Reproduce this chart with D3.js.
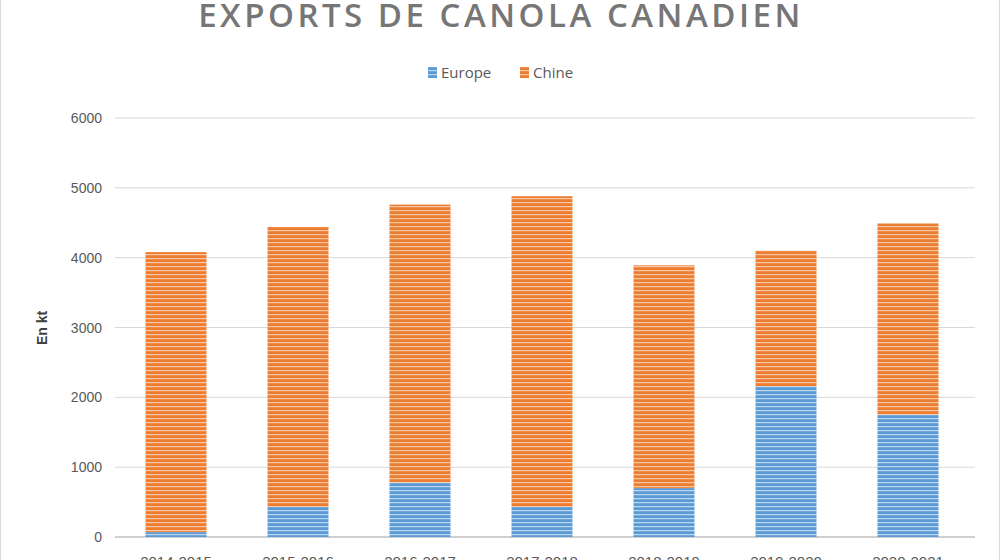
<!DOCTYPE html><html><head><meta charset="utf-8"><script src="https://cdn.jsdelivr.net/npm/d3@7"></script>
<style>body{margin:0;background:#fff}svg{display:block}</style></head><body><svg id="c" width="1000" height="560"></svg>
<script>
const categories=["2014-2015","2015-2016","2016-2017","2017-2018","2018-2019","2019-2020","2020-2021"];
const europe=[70,430,780,430,700,2160,1750];
const chine=[4010,4010,3980,4450,3190,1940,2740];
const yTicks=[0,1000,2000,3000,4000,5000,6000];
const svg=d3.select("#c");
svg.append("rect").attr("x",0.5).attr("y",-1).attr("width",999).attr("height",562).attr("fill","#fff").attr("stroke","#d9d9d9");
const defs=svg.append("defs");
function pat(id,c,l){const p=defs.append("pattern").attr("id",id).attr("patternUnits","userSpaceOnUse").attr("width",6).attr("height",4);
p.append("rect").attr("width",6).attr("height",4).attr("fill",c);p.append("rect").attr("y",2).attr("width",6).attr("height",1.2).attr("fill",l);}
pat("pE","#5b9bd5","#bcd6ef");pat("pC","#ed7d31","#f7c6a4");
const x=d3.scaleBand().domain(categories).range([115,969]).paddingInner(0.5).paddingOuter(0.25);
const y=d3.scaleLinear().domain([0,6000]).range([537,118]);
const g=svg.append("g");
g.selectAll("line.grid").data(yTicks).join("line").attr("x1",115).attr("x2",975).attr("y1",d=>y(d)).attr("y2",d=>y(d)).attr("stroke",d=>d?"#d9d9d9":"#bfbfbf").attr("stroke-width",d=>d?1:1.5);
g.selectAll("text.yt").data(yTicks).join("text").attr("x",102).attr("y",d=>y(d)+5).attr("text-anchor","end").attr("font-family","Liberation Sans, Arial").attr("font-size",14).attr("fill","#595959").text(d=>d);
categories.forEach((c,i)=>{
 g.append("rect").attr("x",x(c)).attr("width",x.bandwidth()).attr("y",y(europe[i])).attr("height",y(0)-y(europe[i])).attr("fill","url(#pE)");
 g.append("rect").attr("x",x(c)).attr("width",x.bandwidth()).attr("y",y(europe[i]+chine[i])).attr("height",y(europe[i])-y(europe[i]+chine[i])).attr("fill","url(#pC)");
 g.append("text").attr("x",x(c)+x.bandwidth()/2).attr("y",567).attr("text-anchor","middle").attr("font-family","Liberation Sans, Arial").attr("font-size",15).attr("fill","#595959").text(c);
});
svg.append("text").attr("transform","translate(47,328) rotate(-90)").attr("text-anchor","middle").attr("font-family","Liberation Sans, Arial").attr("font-weight","bold").attr("font-size",14).attr("fill","#404040").text("En kt");
svg.append("text").attr("x",501).attr("y",27).attr("text-anchor","middle").attr("font-family","Open Sans, DejaVu Sans").attr("font-weight","600").attr("font-size",33).attr("letter-spacing",3.5).attr("fill","#767676").text("EXPORTS DE CANOLA CANADIEN");
const leg=[["Europe","url(#pE)",428],["Chine","url(#pC)",520]];
leg.forEach(([t,f,lx])=>{svg.append("rect").attr("x",lx).attr("y",67).attr("width",9).attr("height",11).attr("fill",f);
svg.append("text").attr("x",lx+13).attr("y",78).attr("font-family","Open Sans, DejaVu Sans").attr("font-size",15).attr("fill","#595959").text(t);});
</script></body></html>
